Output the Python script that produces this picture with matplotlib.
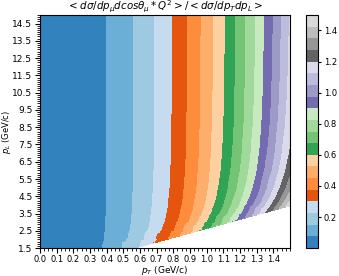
# Mapa de contorno: <dsigma/dp dcos * Q^2> / <dsigma/dpT dpL>
import numpy as np
import matplotlib
matplotlib.use("Agg")
import matplotlib.pyplot as plt
import matplotlib.tri as mtri
from matplotlib.ticker import MultipleLocator

nan = np.nan

# Grade de pT (colunas) e pL (linhas), em GeV/c
pt_grade = [0.0, 0.1, 0.2, 0.3, 0.4, 0.5, 0.6, 0.7, 0.8, 0.9, 1.0, 1.1, 1.2, 1.3, 1.4, 1.5]
pl_grade = [1.5, 2.0, 2.5, 3.0, 3.5, 4.0, 4.5, 5.0, 6.0, 7.0, 8.5, 10.0, 12.0, 15.0]

# Valores (nan = fora da regiao com dados)
razao = [
    [0.000, 0.005, 0.019, 0.045, 0.085, 0.144, nan, nan, nan, nan, nan, nan, nan, nan, nan, nan],
    [0.000, 0.005, 0.019, 0.043, 0.080, 0.131, 0.200, 0.292, nan, nan, nan, nan, nan, nan, nan, nan],
    [0.000, 0.005, 0.019, 0.043, 0.078, 0.125, 0.187, 0.267, 0.368, 0.495, nan, nan, nan, nan, nan, nan],
    [0.000, 0.005, 0.019, 0.042, 0.077, 0.122, 0.181, 0.254, 0.345, 0.456, 0.591, 0.755, nan, nan, nan, nan],
    [0.000, 0.005, 0.019, 0.042, 0.076, 0.120, 0.177, 0.247, 0.332, 0.434, 0.556, 0.702, 0.874, 1.077, nan, nan],
    [0.000, 0.005, 0.019, 0.042, 0.076, 0.119, 0.175, 0.242, 0.324, 0.421, 0.535, 0.669, 0.825, 1.007, 1.219, 1.463],
    [0.000, 0.005, 0.019, 0.042, 0.075, 0.119, 0.173, 0.240, 0.319, 0.412, 0.521, 0.648, 0.794, 0.962, 1.156, 1.377],
    [0.000, 0.005, 0.019, 0.042, 0.075, 0.118, 0.172, 0.238, 0.315, 0.406, 0.511, 0.633, 0.772, 0.931, 1.113, 1.318],
    [0.000, 0.005, 0.019, 0.042, 0.075, 0.118, 0.171, 0.235, 0.311, 0.399, 0.500, 0.615, 0.746, 0.893, 1.060, 1.246],
    [0.000, 0.005, 0.019, 0.042, 0.075, 0.118, 0.170, 0.234, 0.308, 0.394, 0.493, 0.605, 0.731, 0.872, 1.030, 1.205],
    [0.000, 0.005, 0.019, 0.042, 0.075, 0.117, 0.170, 0.233, 0.306, 0.391, 0.488, 0.596, 0.718, 0.854, 1.005, 1.171],
    [0.000, 0.005, 0.019, 0.042, 0.075, 0.117, 0.170, 0.232, 0.305, 0.389, 0.485, 0.592, 0.712, 0.844, 0.991, 1.153],
    [0.000, 0.005, 0.019, 0.042, 0.075, 0.117, 0.169, 0.232, 0.304, 0.388, 0.482, 0.588, 0.707, 0.837, 0.981, 1.139],
    [0.000, 0.005, 0.019, 0.042, 0.075, 0.117, 0.169, 0.231, 0.304, 0.387, 0.481, 0.586, 0.703, 0.832, 0.974, 1.129],
]

# Pontos na borda da regiao (limite diagonal embaixo a direita)
borda_pt = [0.57, 0.6, 0.7, 0.76, 0.8, 0.9, 0.95, 1.0, 1.1, 1.14, 1.2, 1.3, 1.33, 1.4, 1.5]
borda_pl = [1.500, 1.579, 1.842, 2.000, 2.105, 2.368, 2.500, 2.632, 2.895, 3.000, 3.158, 3.421, 3.500, 3.684, 3.947]
borda_z = [0.202, 0.224, 0.305, 0.361, 0.401, 0.510, 0.570, 0.633, 0.771, 0.830, 0.923, 1.091, 1.144, 1.275, 1.475]

niveis = np.linspace(0, 1.5, 21)
ticks_cb = [0.2, 0.4, 0.6, 0.8, 1.0, 1.2, 1.4]

# Junta grade + borda num conjunto de pontos
PT, PL = np.meshgrid(pt_grade, pl_grade)
Z = np.array(razao)
ok = ~np.isnan(Z)
x = np.concatenate([PT[ok], borda_pt])
y = np.concatenate([PL[ok], borda_pl])
z = np.concatenate([Z[ok], borda_z])
tri = mtri.Triangulation(x, y)

fig = plt.figure(figsize=(3.39, 2.76), dpi=100)
ax = fig.add_axes([0.118, 0.101, 0.737, 0.845])
cax = fig.add_axes([0.904, 0.101, 0.035, 0.845])

cs = ax.tricontourf(tri, z, levels=niveis, cmap="tab20c")

ax.set_xlim(0, 1.5)
ax.set_ylim(1.5, 15)
ax.set_xticks(np.arange(0, 1.45, 0.1))
ax.set_yticks(np.arange(1.5, 14.6, 1.0))
ax.xaxis.set_minor_locator(MultipleLocator(0.025))
ax.yaxis.set_minor_locator(MultipleLocator(0.125))
ax.tick_params(axis="x", labelsize=6, pad=1.5)
ax.tick_params(axis="y", labelsize=6.5, pad=2)
ax.set_xlabel(r"$p_T$ (GeV/c)", fontsize=6.5, labelpad=0)
ax.set_ylabel(r"$p_L$ (GeV/c)", fontsize=6)
ax.yaxis.set_label_coords(-0.11, 0.5)
ax.set_title(r"$< d\sigma/dp_{\mu}dcos\theta_{\mu} * Q^2 > / < d\sigma/dp_Tdp_L >$",
             fontsize=7.4, pad=3)

cb = fig.colorbar(cs, cax=cax, ticks=ticks_cb)
cb.ax.tick_params(labelsize=6, length=2.5, pad=1.5)

fig.savefig("out.png", dpi=100)
